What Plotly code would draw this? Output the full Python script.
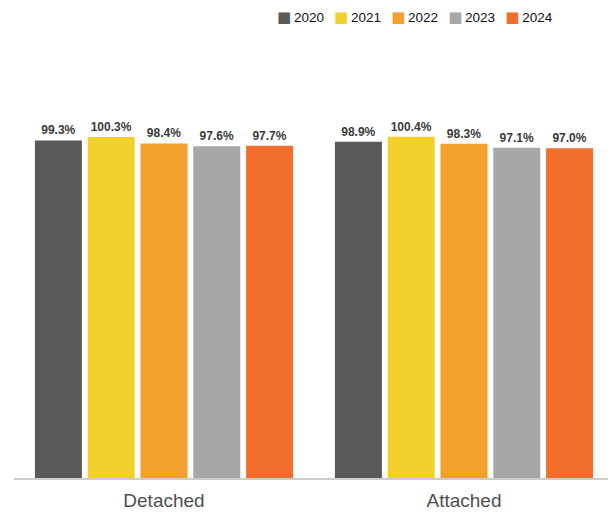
import plotly.graph_objects as go

categories = ["Detached", "Attached"]
years = ["2020", "2021", "2022", "2023", "2024"]
values = {
    "2020": [99.3, 98.9],
    "2021": [100.3, 100.4],
    "2022": [98.4, 98.3],
    "2023": [97.6, 97.1],
    "2024": [97.7, 97.0],
}
colors = {
    "2020": "#5A5957",
    "2021": "#F2D02B",
    "2022": "#F3A02C",
    "2023": "#A7A7A6",
    "2024": "#F26E2C",
}

fig = go.Figure()
for y in years:
    fig.add_trace(go.Bar(
        name=y, x=categories, y=values[y],
        marker=dict(color=colors[y], line=dict(width=0)),
        text=[f"{v:.1f}%" for v in values[y]],
        textposition="outside",
        textfont=dict(family="Liberation Sans, Arial, sans-serif", size=12, color="#3a3a3a", weight="bold"),
        cliponaxis=False,
        showlegend=False,
    ))

legend_text = "\u2002\u2005".join(
    f"<span style='color:{colors[y]};font-size:15px;font-family:DejaVu Sans'>\u25A0</span>\u2009{y}" for y in years
)
fig.add_annotation(
    text=legend_text, xref="paper", yref="paper", x=0.668, y=1.13,
    xanchor="center", yanchor="middle", showarrow=False,
    font=dict(family="Liberation Sans, Arial, sans-serif", size=13.5, color="#111"),
)

fig.update_layout(
    width=608, height=504,
    margin=dict(l=6, r=2, t=62, b=34),
    barmode="group", bargap=0.12, bargroupgap=0.11,
    plot_bgcolor="white", paper_bgcolor="white",
    xaxis=dict(showline=True, linecolor="#cccccc", linewidth=2, ticks="", ticklabelstandoff=4,
               automargin=False,
               tickfont=dict(family="Liberation Sans, Arial, sans-serif", size=19, color="#505050")),
    yaxis=dict(range=[0, 120], visible=False, showgrid=False, zeroline=False, automargin=False),
)

fig.write_html("out.html")
